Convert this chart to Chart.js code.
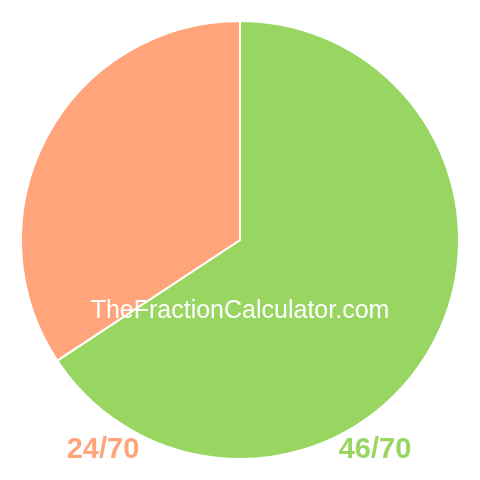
<!DOCTYPE html>
<html>
<head>
<meta charset="utf-8">
<script src="https://cdn.jsdelivr.net/npm/chart.js@4"></script>
<style>
  html, body { margin: 0; padding: 0; background: #fff; }
  #wrap { width: 480px; height: 480px; }
</style>
</head>
<body>
<div id="wrap"><canvas id="chart" width="480" height="480"></canvas></div>
<script>
  const sliceLabels = ['46/70', '24/70'];
  const sliceValues = [46, 24];
  const sliceColors = ['rgb(152,213,97)', 'rgb(255,164,123)'];
  const watermark = 'TheFractionCalculator.com';

  // text overlay: watermark + fraction labels under the pie
  const overlay = {
    id: 'overlay',
    afterDraw(chart) {
      const ctx = chart.ctx;
      ctx.save();
      ctx.textAlign = 'center';
      ctx.textBaseline = 'middle';
      ctx.fillStyle = '#fff';
      ctx.font = '25px "Liberation Sans", Arial, sans-serif';
      ctx.fillText(watermark, 240, 311);
      ctx.font = 'bold 29px "Liberation Sans", Arial, sans-serif';
      ctx.fillStyle = sliceColors[1];
      ctx.fillText(sliceLabels[1], 103, 450);
      ctx.fillStyle = sliceColors[0];
      ctx.fillText(sliceLabels[0], 375, 450);
      ctx.restore();
    }
  };

  new Chart(document.getElementById('chart'), {
    type: 'pie',
    data: {
      labels: sliceLabels,
      datasets: [{
        data: sliceValues,
        backgroundColor: sliceColors,
        borderColor: '#fff',
        borderWidth: 2
      }]
    },
    options: {
      responsive: false,
      animation: false,
      layout: { padding: 20 },
      plugins: {
        legend: { display: false },
        tooltip: { enabled: false }
      }
    },
    plugins: [overlay]
  });
</script>
</body>
</html>
